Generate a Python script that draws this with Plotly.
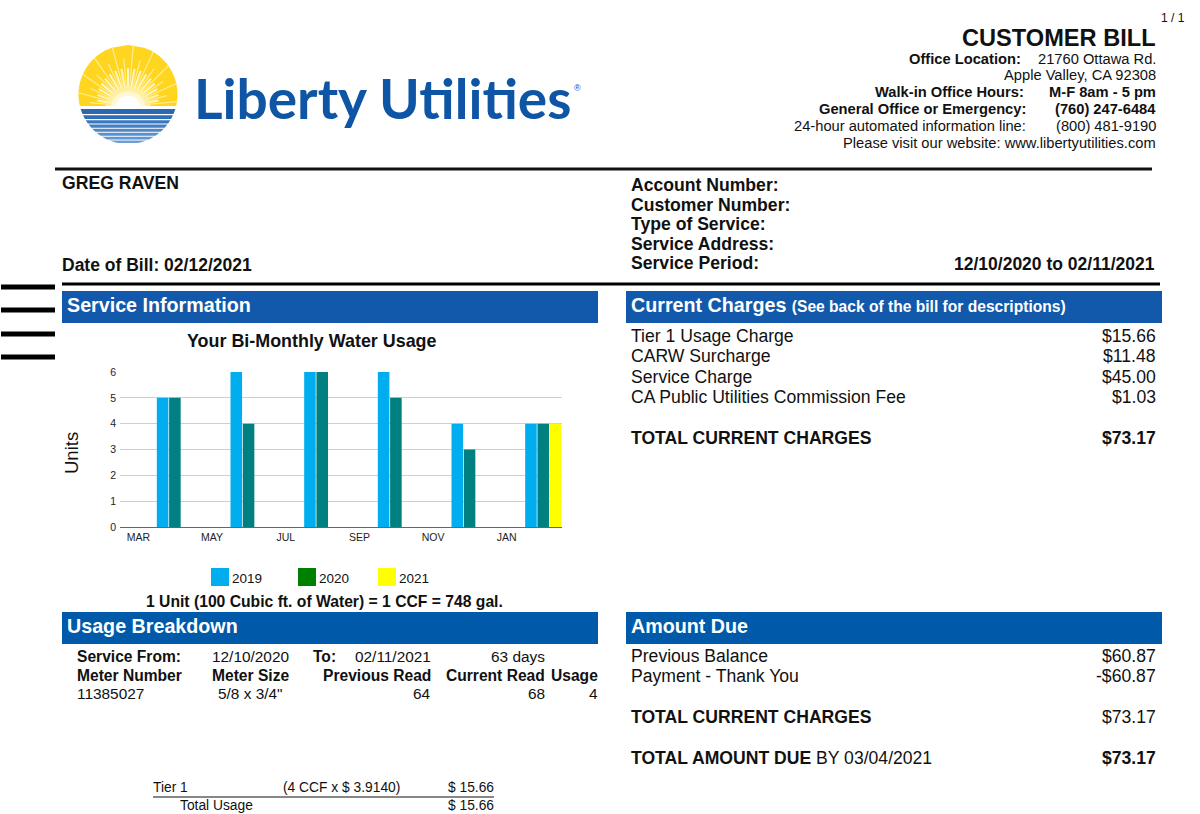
import numpy as np
import plotly.graph_objects as go

# chart values
months = ["MAR", "MAY", "JUL", "SEP", "NOV", "JAN"]
usage_2019 = [5, 6, 6, 6, 4, 4]
usage_2020 = [5, 4, 6, 5, 3, 4]
usage_2021 = [None, None, None, None, None, 4]
y_ticks = [0, 1, 2, 3, 4, 5, 6]

FONT = "Liberation Sans"
BLUE = "#1259AB"
BLUE2 = "#005AA9"
C_2019 = "#00AEEF"
C_2020 = "#008080"
C_2021 = "#FFFF00"

W, H = 1200, 814
shapes = []
notes = []


def txt(x, y, s, size=14, bold=False, anchor="left", color="#111111", font=FONT, angle=0):
    if bold:
        s = "<b>" + s + "</b>"
    # annotations land a pixel inside their anchor
    x = x + {"left": -1, "right": 1, "center": 0}[anchor]
    notes.append(dict(x=x, y=y, text=s, xref="x", yref="y", showarrow=False, xanchor=anchor, textangle=angle,
                      yanchor="middle", borderpad=0, font=dict(family=font, size=size, color=color)))


def rect(x0, y0, x1, y1, color):
    shapes.append(dict(type="rect", xref="x", yref="y", x0=x0, y0=y0, x1=x1, y1=y1,
                       fillcolor=color, line=dict(width=0)))


def poly(xs, ys, color):
    path = "M" + " L".join(f"{a:.2f},{b:.2f}" for a, b in zip(xs, ys)) + " Z"
    shapes.append(dict(type="path", xref="x", yref="y", path=path, fillcolor=color, line=dict(width=0)))


# logo: sun over water
cx, cy, r = 128, 94.5, 49.5
hx, hy = 128, 106


def band(y0, y1, color):
    # slice of the logo circle between two heights
    ys = np.linspace(y0, y1, 24)
    half = np.sqrt(np.maximum(r**2 - (ys - cy)**2, 0))
    poly(list(cx - half) + list(cx + half)[::-1], list(ys) + list(ys)[::-1], color)


band(cy - r, hy, "#FFD51F")
for k in range(1, 36):
    a = np.radians(k * 5)
    dx, dy = np.cos(a), -np.sin(a)
    # distance from the horizon point to the circle edge along this ray
    b = dx * (hx - cx) + dy * (hy - cy)
    edge = -b + np.sqrt(b**2 - ((hx - cx)**2 + (hy - cy)**2 - r**2))
    long_ray = k % 2 == 1
    r0 = 14 if long_ray else 12
    r1 = edge if (k % 4 == 1) else edge * (0.78 if long_ray else 0.62)
    shapes.append(dict(type="line", xref="x", yref="y", x0=hx + dx * r0, y0=hy + dy * r0,
                       x1=hx + dx * r1, y1=hy + dy * r1,
                       line=dict(color="#FFEE94" if long_ray else "#FFF6C4", width=1.2 if long_ray else 2)))
for rad, col in [(22, "#FFF0A0"), (17, "#FFF8D0"), (12, "#FFFFFF")]:
    t = np.linspace(0, np.pi, 30)
    poly(hx + rad * np.cos(t), hy - rad * 0.85 * np.sin(t), col)

sea_cols = ["#2A69B2", "#2F6EB6", "#3A78BD", "#447FC3", "#4F88C9", "#5A90CE", "#6096D2", "#6C9ED6"]
sea_edges = [109, 115.2, 120.2, 124.6, 128.8, 132.8, 136.8, 140.6, 144]
for i, col in enumerate(sea_cols):
    band(sea_edges[i], sea_edges[i + 1] - 1.1, col)

txt(194, 98, "Liberty Utilities", 55, True, color="#0F55A5", font="Lato")
txt(574, 88, "®", 9, color="#0F55A5")

# header block
HDR = 14.7
txt(1185, 18, "1 / 1", 12, anchor="right")
txt(1156, 38, "CUSTOMER BILL", 23.6, True, "right")
txt(1021, 59, "Office Location:", HDR, True, "right")
txt(1156, 59, "21760 Ottawa Rd.", HDR, anchor="right")
txt(1156, 75, "Apple Valley, CA 92308", HDR, anchor="right")
txt(1024, 92, "Walk-in Office Hours:", HDR, True, "right")
txt(1156, 92, "M-F 8am - 5 pm", HDR, True, "right")
txt(1026, 109, "General Office or Emergency:", HDR, True, "right")
txt(1156, 109, "(760) 247-6484", HDR, True, "right")
txt(1026, 126, "24-hour automated information line:", HDR, anchor="right")
txt(1156, 126, "(800) 481-9190", HDR, anchor="right")
txt(1156, 143, "Please visit our website: www.libertyutilities.com", HDR, anchor="right")

rect(55, 167.5, 1152, 170.5, "#111111")
rect(62, 282.5, 1160, 285.5, "#000000")
for yy in [287, 310, 334, 357]:
    rect(1, yy - 2.5, 55, yy + 2.5, "#000000")

# account block
txt(62, 183, "GREG RAVEN", 17.6, True)
txt(62, 265, "Date of Bill: 02/12/2021", 17.5, True)
for yy, label in zip([185, 205, 224, 244, 263],
                     ["Account Number:", "Customer Number:", "Type of Service:", "Service Address:", "Service Period:"]):
    txt(631, yy, label, 17.6, True)
txt(1155, 264, "12/10/2020 to 02/11/2021", 17.5, True, "right")

# section bars
rect(62, 291, 598, 323, BLUE)
rect(626, 291, 1162, 323, BLUE)
rect(62, 612, 598, 644, BLUE2)
rect(626, 612, 1162, 644, BLUE2)
txt(67, 305, "Service Information", 19.7, True, color="white")
txt(631, 305, "Current Charges <span style='font-size:15.6px'>(See back of the bill for descriptions)</span>", 19.7, True, color="white")
txt(67, 626, "Usage Breakdown", 19.7, True, color="white")
txt(631, 626, "Amount Due", 19.7, True, color="white")

# current charges
for yy, label, val in zip([336, 356, 377, 397],
                          ["Tier 1 Usage Charge", "CARW Surcharge", "Service Charge", "CA Public Utilities Commission Fee"],
                          ["$15.66", "$11.48", "$45.00", "$1.03"]):
    txt(631, yy, label, 17.6)
    txt(1156, yy, val, 17.6, anchor="right")
txt(631, 438, "TOTAL CURRENT CHARGES", 17.6, True)
txt(1156, 438, "$73.17", 17.6, True, "right")

# chart title, legend, note
txt(312, 341, "Your Bi-Monthly Water Usage", 17.9, True, "center")
txt(71, 453, "Units", 18.5, anchor="center", angle=-90)
for x0, col, label in [(211, C_2019, "2019"), (298, "#008000", "2020"), (378, C_2021, "2021")]:
    rect(x0, 568, x0 + 18, 586, col)
    txt(x0 + 21, 578, label, 13.5)
txt(324, 601, "1 Unit (100 Cubic ft. of Water) = 1 CCF = 748 gal.", 15.7, True, "center")

# usage breakdown
TBL = 15.6
txt(77, 656, "Service From:", TBL, True)
txt(212, 656, "12/10/2020", 15.4)
txt(313, 656, "To:", TBL, True)
txt(431, 656, "02/11/2021", 15.4, anchor="right")
txt(545, 656, "63 days", 15.4, anchor="right")
txt(77, 675, "Meter Number", TBL, True)
txt(212, 675, "Meter Size", TBL, True)
txt(431, 675, "Previous Read", TBL, True, "right")
txt(545, 675, "Current Read", TBL, True, "right")
txt(598, 675, "Usage", TBL, True, "right")
txt(77, 693, "11385027", 15.4)
txt(250, 693, '5/8 x 3/4"', 15.4, anchor="center")
txt(431, 693, "64", 15.4, anchor="right")
txt(545, 693, "68", 15.4, anchor="right")
txt(598, 693, "4", 15.4, anchor="right")

txt(153, 787, "Tier 1", 13.8)
txt(283, 787, "(4 CCF x $ 3.9140)", 13.8)
txt(494, 787, "$ 15.66", 13.8, anchor="right")
rect(153, 796.5, 494, 797.5, "#111111")
txt(180, 805, "Total Usage", 13.8)
txt(494, 805, "$ 15.66", 13.8, anchor="right")

# amount due
txt(631, 656, "Previous Balance", 17.6)
txt(1156, 656, "$60.87", 17.6, anchor="right")
txt(631, 676, "Payment - Thank You", 17.6)
txt(1156, 676, "-$60.87", 17.6, anchor="right")
txt(631, 717, "TOTAL CURRENT CHARGES", 17.6, True)
txt(1156, 717, "$73.17", 17.6, anchor="right")
txt(631, 758, "<b>TOTAL AMOUNT DUE</b> BY 03/04/2021", 17.6)
txt(1156, 758, "$73.17", 17.6, True, "right")

# bars sit in the right half of each month slot, labels in the left half
slots = list(range(len(months)))
fig = go.Figure()
for values, col, off in [(usage_2019, C_2019, 0), (usage_2020, C_2020, 1 / 6), (usage_2021, C_2021, 2 / 6)]:
    fig.add_trace(go.Bar(x=slots, y=values, xaxis="x2", yaxis="y2", marker=dict(color=col, line=dict(width=0)),
                         width=0.157, offset=off, showlegend=False))

fig.update_layout(
    width=W, height=H, margin=dict(l=0, r=0, t=0, b=0, autoexpand=False),
    paper_bgcolor="white", plot_bgcolor="rgba(0,0,0,0)",
    shapes=shapes, annotations=notes, showlegend=False,
    xaxis=dict(range=[0, W], domain=[0, 1], visible=False, fixedrange=True),
    yaxis=dict(range=[H, 0], domain=[0, 1], visible=False, fixedrange=True),
    xaxis2=dict(domain=[120 / W, 562 / W], anchor="y2", range=[-0.5, 5.5], tickvals=[s - 0.25 for s in slots],
                ticktext=months, ticks="", showgrid=False, showline=True, linecolor="#666666", linewidth=1,
                tickfont=dict(family=FONT, size=10.5, color="#222222"), fixedrange=True),
    yaxis2=dict(domain=[(H - 527) / H, (H - 372) / H], anchor="x2", range=[0, 6], tickvals=y_ticks, ticks="",
                showgrid=True, gridcolor="#CFCFCF", gridwidth=1, zeroline=False, showline=False, ticklabelstandoff=3,
                tickfont=dict(family=FONT, size=10.5, color="#222222"), fixedrange=True),
)

# page fills the window, no default body margin
fig.write_html("out.html", config=dict(displayModeBar=False), post_script="document.body.style.margin='0';")
